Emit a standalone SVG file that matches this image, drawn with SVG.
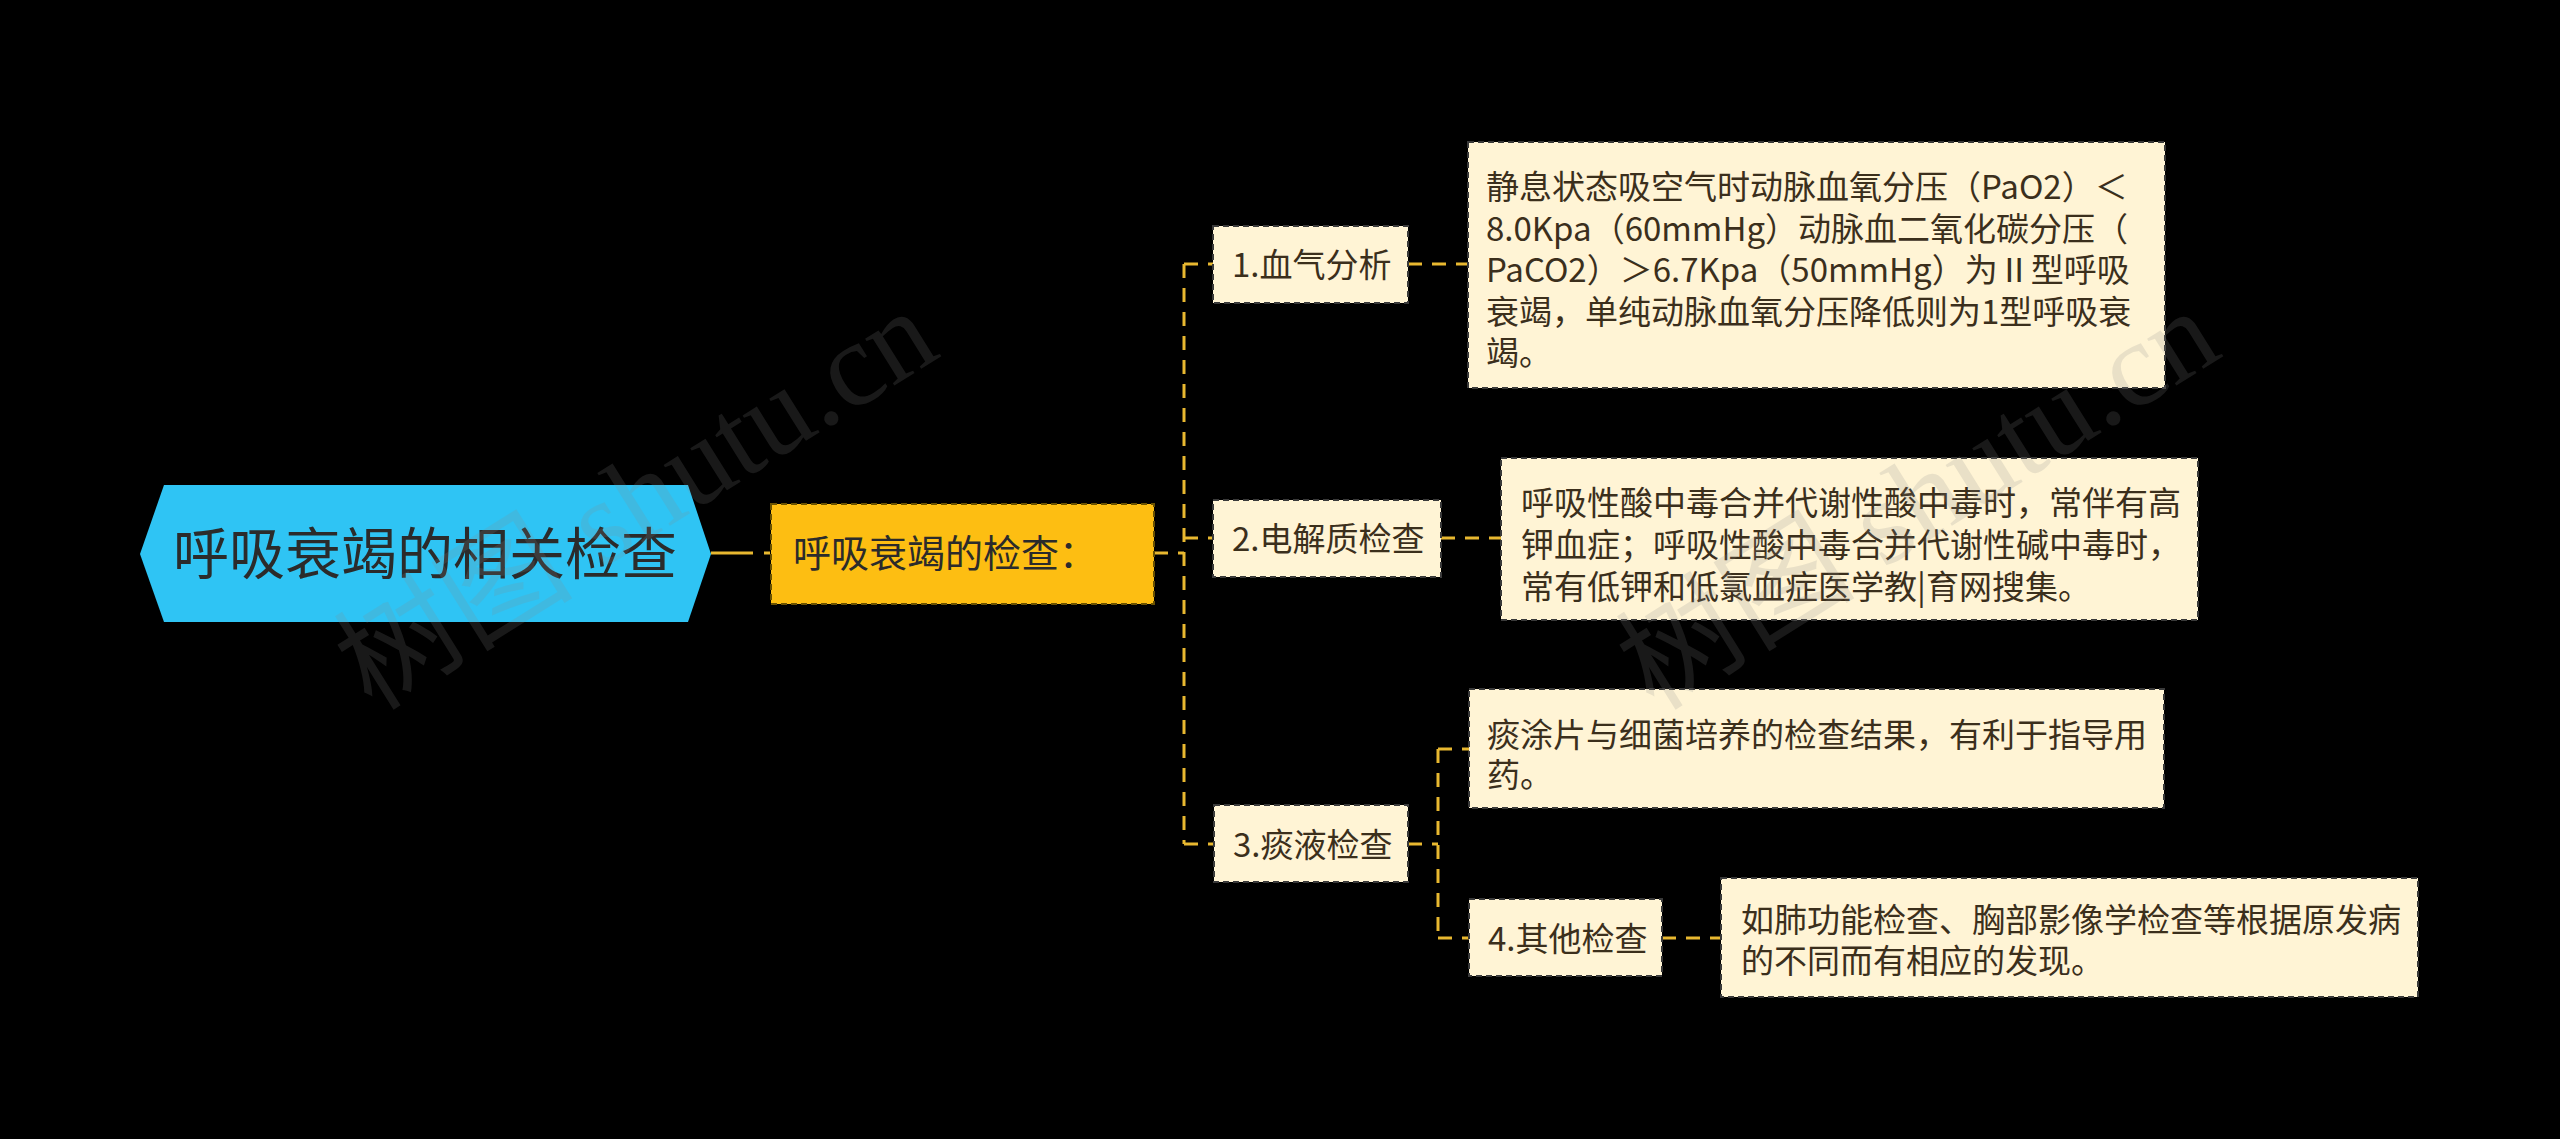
<svg xmlns="http://www.w3.org/2000/svg" width="2560" height="1139" viewBox="0 0 2560 1139">
<style>
.bg{fill:#000}
.con{fill:none;stroke:#E8B830;stroke-width:3;stroke-dasharray:14 10}
.leaf{fill:#FFF4D5;stroke:#3a3a3a;stroke-width:2;stroke-dasharray:6 4}
.t{font-family:"Noto Sans CJK SC","Noto Sans",sans-serif;fill:#3B2F1C;font-size:33px}
.wm{font-family:"Liberation Serif","Noto Sans CJK SC",serif;font-size:120px;fill:#8a8a8a;opacity:0.18}
</style>
<rect class="bg" x="0" y="0" width="2560" height="1139"/>
<g id="connectors">
<path class="con" d="M711 553 H770" style="stroke-dasharray:42 11"/>
<path class="con" d="M1154 553 H1184"/>
<path class="con" d="M1184 264 V844"/>
<path class="con" d="M1184 264 H1213"/>
<path class="con" d="M1184 538 H1213"/>
<path class="con" d="M1184 844 H1214"/>
<path class="con" d="M1408 264 H1468"/>
<path class="con" d="M1441 538 H1501"/>
<path class="con" d="M1408 844 H1438"/>
<path class="con" d="M1438 749 V938"/>
<path class="con" d="M1438 749 H1469"/>
<path class="con" d="M1438 938 H1469"/>
<path class="con" d="M1662 938 H1721"/>
</g>
<g id="root">
<polygon points="140,554 164,485 688,485 711,554 688,622 164,622" fill="#2FC4F4"/>
<text x="425" y="574" text-anchor="middle" style="font-family:'Noto Sans CJK SC','Noto Sans',sans-serif;font-size:56px;fill:#2b2b2b">呼吸衰竭的相关检查</text>
</g>
<g id="main">
<rect x="771" y="504" width="383" height="100" fill="#FDBE12" stroke="#6b5200" stroke-width="2" stroke-dasharray="6 4"/>
<text x="793" y="567" style="font-family:'Noto Sans CJK SC','Noto Sans',sans-serif;font-size:38px;fill:#2b2b2b">呼吸衰竭的检查：</text>
</g>
<g id="n1">
<rect class="leaf" x="1213" y="226" width="195" height="77"/>
<text class="t" x="1232" y="277">1.血气分析</text>
</g>
<g id="n1d">
<rect class="leaf" x="1468" y="142" width="697" height="246"/>
<text class="t" x="1486">
<tspan x="1486" y="199">静息状态吸空气时动脉血氧分压（PaO2）＜</tspan>
<tspan x="1486" y="240.5">8.0Kpa（60mmHg）动脉血二氧化碳分压（</tspan>
<tspan x="1486" y="282">PaCO2）＞6.7Kpa（50mmHg）为Ⅱ型呼吸</tspan>
<tspan x="1486" y="323.5">衰竭，单纯动脉血氧分压降低则为1型呼吸衰</tspan>
<tspan x="1486" y="365">竭。</tspan>
</text>
</g>
<g id="n2">
<rect class="leaf" x="1213" y="500" width="228" height="77"/>
<text class="t" x="1232" y="551">2.电解质检查</text>
</g>
<g id="n2d">
<rect class="leaf" x="1501" y="458" width="697" height="162"/>
<text class="t">
<tspan x="1521" y="515">呼吸性酸中毒合并代谢性酸中毒时，常伴有高</tspan>
<tspan x="1521" y="557">钾血症；呼吸性酸中毒合并代谢性碱中毒时，</tspan>
<tspan x="1521" y="599">常有低钾和低氯血症医学教|育网搜集。</tspan>
</text>
</g>
<g id="n3">
<rect class="leaf" x="1214" y="805" width="194" height="77"/>
<text class="t" x="1233" y="857">3.痰液检查</text>
</g>
<g id="n3d">
<rect class="leaf" x="1469" y="689" width="695" height="119"/>
<text class="t">
<tspan x="1487" y="747">痰涂片与细菌培养的检查结果，有利于指导用</tspan>
<tspan x="1487" y="787">药。</tspan>
</text>
</g>
<g id="n4">
<rect class="leaf" x="1469" y="899" width="193" height="77"/>
<text class="t" x="1488" y="951">4.其他检查</text>
</g>
<g id="n4d">
<rect class="leaf" x="1721" y="878" width="697" height="119"/>
<text class="t">
<tspan x="1741" y="932">如肺功能检查、胸部影像学检查等根据原发病</tspan>
<tspan x="1741" y="973">的不同而有相应的发现。</tspan>
</text>
</g>
<g id="watermark">
<text class="wm" transform="translate(372 712) rotate(-32)">树图 shutu.cn</text>
<text class="wm" transform="translate(1654 712) rotate(-32)">树图 shutu.cn</text>
</g>
</svg>
